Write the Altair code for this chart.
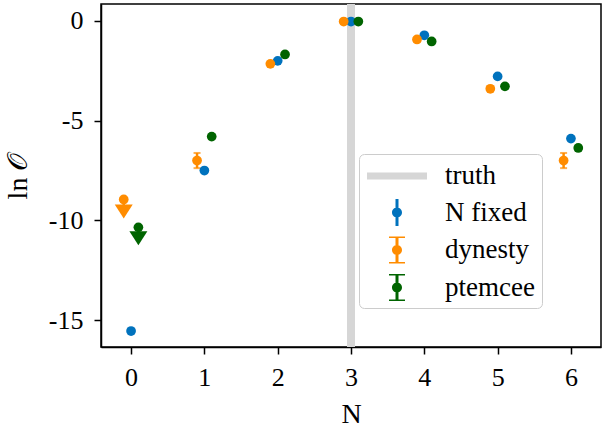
import altair as alt
import pandas as pd

# ---------------- data ----------------
N_VALUES = [0, 1, 2, 3, 4, 5, 6]
SERIES = ["N fixed", "dynesty", "ptemcee"]
OFFSETS = [0.0, -0.1, 0.1]

NFIXED = [-15.55, -7.5, -2.0, -0.03, -0.72, -2.78, -5.9]
NFIXED_ERR = [0.1, 0.1, 0.08, 0.05, 0.08, 0.08, 0.1]
DYNESTY = [-8.95, -7.0, -2.15, -0.03, -0.93, -3.4, -7.0]
DYNESTY_ERR = [0.0, 0.38, 0.12, 0.08, 0.1, 0.12, 0.38]
PTEMCEE = [-10.35, -5.8, -1.68, -0.03, -1.03, -3.28, -6.37]
PTEMCEE_ERR = [0.0, 0.1, 0.08, 0.05, 0.08, 0.1, 0.12]

# upper limits (N = 0) for dynesty and ptemcee
LIMIT_SERIES = ["dynesty", "ptemcee"]
LIMIT_N = [0, 0]
LIMIT_FROM = [-8.95, -10.35]
LIMIT_TO = [-9.55, -10.9]

TRUTH_N = [3]

LEGEND_ITEMS = ["truth", "N fixed", "dynesty", "ptemcee"]
COLORS = ["#d6d6d6", "#0072bd", "#ff8c00", "#006400"]

X_TICKS = [0, 1, 2, 3, 4, 5, 6]
Y_TICKS = [0, -5, -10, -15]

# ---------------- tables ----------------
values = {"N fixed": (NFIXED, NFIXED_ERR), "dynesty": (DYNESTY, DYNESTY_ERR),
          "ptemcee": (PTEMCEE, PTEMCEE_ERR)}
rows, caps = [], []
for name, off in zip(SERIES, OFFSETS):
    vals, errs = values[name]
    for n, v, e in zip(N_VALUES, vals, errs):
        rows.append({"series": name, "x": n + off, "y": v, "lo": v - e, "hi": v + e, "err": e})
        if name != "N fixed" and e > 0:
            caps.append({"series": name, "x": n + off, "y": v - e})
            caps.append({"series": name, "x": n + off, "y": v + e})
df = pd.DataFrame(rows)
df_err = df[df["err"] > 0]
df_caps = pd.DataFrame(caps)

lim_rows = []
for s, n, a, b in zip(LIMIT_SERIES, LIMIT_N, LIMIT_FROM, LIMIT_TO):
    off = OFFSETS[SERIES.index(s)]
    lim_rows.append({"series": s, "x": n + off, "y": a, "y2": b})
df_lim = pd.DataFrame(lim_rows)
df_truth = pd.DataFrame({"x": TRUTH_N})
df_leg = pd.DataFrame({"series": LEGEND_ITEMS})

# ---------------- styling ----------------
FONT = "Liberation Serif"
color_scale = alt.Scale(domain=LEGEND_ITEMS, range=COLORS)
x_scale = alt.Scale(domain=[-0.41, 6.41], nice=False, zero=False)
y_scale = alt.Scale(domain=[-16.35, 0.85], nice=False, zero=False)
x_axis = alt.Axis(values=X_TICKS, format="d", title="N", grid=False, tickSize=7,
                  tickWidth=1.5, labelPadding=10, titlePadding=10, labelFlush=False)
y_axis = alt.Axis(values=Y_TICKS, labelExpr="'' + datum.value", title="ln 𝒪", grid=False,
                  tickSize=7, tickWidth=1.5, labelPadding=11, titlePadding=16)

X = alt.X("x:Q", scale=x_scale, axis=x_axis)
Y = alt.Y("y:Q", scale=y_scale, axis=y_axis)
C = alt.Color("series:N", scale=color_scale, legend=None)

circle = "M -0.333 0 A 0.333 0.333 0 1 1 0.333 0 A 0.333 0.333 0 1 1 -0.333 0 Z"
bars_plain = "M -0.1 -0.9 H 0.1 V -0.3 H -0.1 Z M -0.1 0.3 H 0.1 V 0.9 H -0.1 Z"
bars_capped = ("M -0.533 -0.9 H 0.533 V -0.8 H -0.533 Z M -0.533 0.8 H 0.533 V 0.9 H -0.533 Z "
               "M -0.1 -0.8 H 0.1 V -0.3 H -0.1 Z M -0.1 0.3 H 0.1 V 0.8 H -0.1 Z")
SHAPES = ["M -2 -0.233 H 2 V 0.233 H -2 Z",
          bars_plain + " " + circle,
          bars_capped + " " + circle,
          bars_capped + " " + circle]
TRIANGLE = "M -1 -0.78 L 1 -0.78 L 0 0.78 Z"

legend = alt.Legend(title=None, orient="none", legendX=258, legendY=150, direction="vertical",
                    labelFont=FONT, labelFontSize=27, labelColor="black", symbolSize=900,
                    symbolStrokeWidth=0, symbolOpacity=1, strokeColor="#cccccc",
                    fillColor="white", cornerRadius=5, padding=7, rowPadding=8.5,
                    symbolOffset=16, labelOffset=33)

# ---------------- layers ----------------
truth = alt.Chart(df_truth).mark_rule(color="#d6d6d6", strokeWidth=8).encode(x=X)
errs = alt.Chart(df_err).mark_rule(strokeWidth=2.5).encode(
    x=X, y=alt.Y("lo:Q", scale=y_scale, axis=y_axis), y2="hi:Q", color=C)
capm = alt.Chart(df_caps).mark_tick(orient="horizontal", size=7, thickness=2).encode(x=X, y=Y, color=C)
lims = alt.Chart(df_lim).mark_rule(strokeWidth=2.5).encode(x=X, y=Y, y2="y2:Q", color=C)
tris = alt.Chart(df_lim).mark_point(shape=TRIANGLE, filled=True, size=324, opacity=1).encode(
    x=X, y=alt.Y("y2:Q", scale=y_scale, axis=y_axis), color=C)
pts = alt.Chart(df).mark_circle(size=95, opacity=1).encode(x=X, y=Y, color=C)
leg = alt.Chart(df_leg).mark_point(filled=True, opacity=0).encode(
    color=alt.Color("series:N", scale=color_scale, legend=legend),
    shape=alt.Shape("series:N", scale=alt.Scale(domain=LEGEND_ITEMS, range=SHAPES), legend=legend),
)

chart = alt.layer(truth, errs, capm, lims, tris, pts, leg).resolve_legend(
    color="independent", shape="independent"
).properties(
    width=500, height=343,
    padding={"left": 101, "top": 4, "right": 12, "bottom": 76},
    autosize=alt.AutoSizeParams(type="none"),
).configure_view(stroke="black", strokeWidth=1.5).configure_axis(
    labelFont=FONT, titleFont=FONT, labelFontSize=26, titleFontSize=28,
    titleFontWeight="normal", labelColor="black", titleColor="black",
    domainColor="black", tickColor="black", domainWidth=1.5,
).configure_legend(labelFont=FONT, labelFontSize=27, labelColor="black")

chart.save("out.html", embed_options={"renderer": "svg", "actions": False})
